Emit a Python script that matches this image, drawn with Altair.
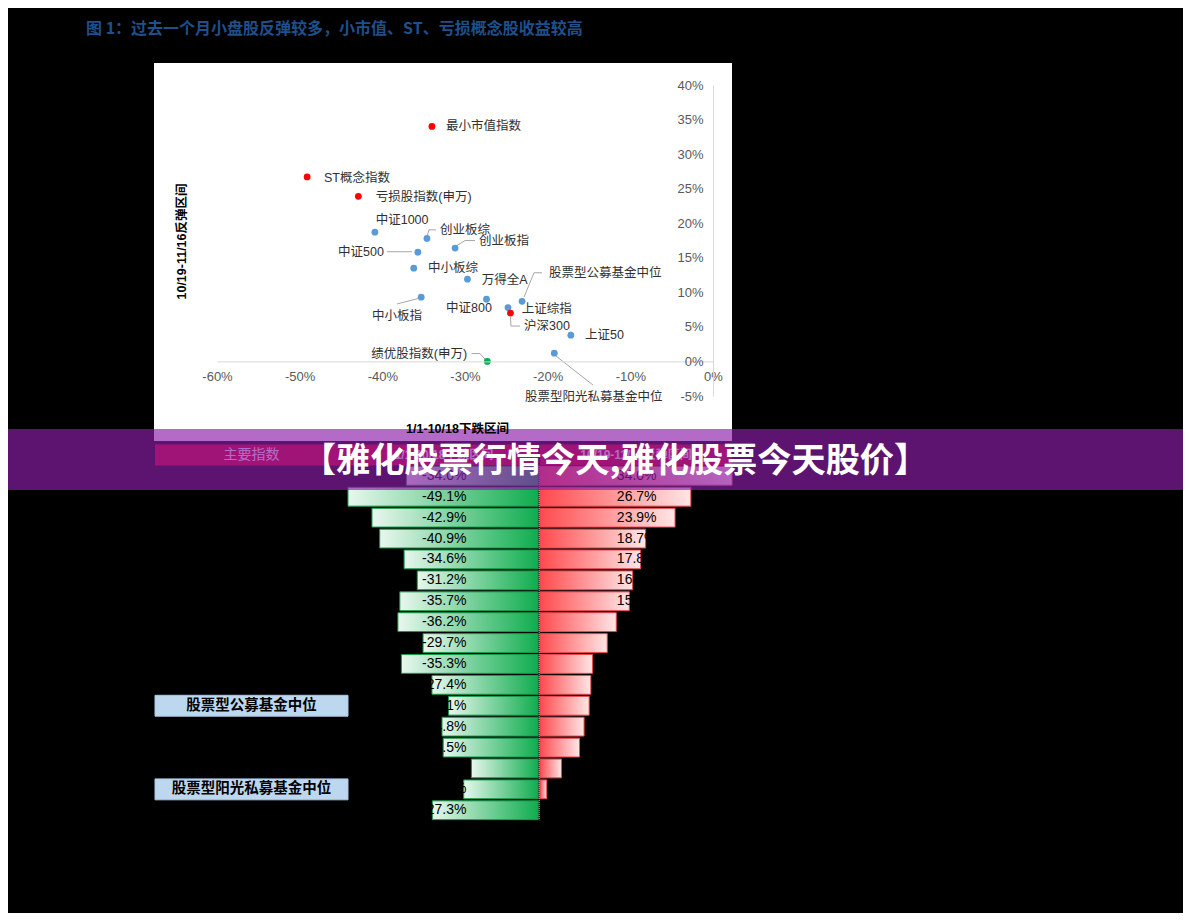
import altair as alt
import pandas as pd

# ---------------- values ----------------
title_text = "图 1：过去一个月小盘股反弹较多，小市值、ST、亏损概念股收益较高"
banner_text = "【雅化股票行情今天,雅化股票今天股价】"

names = ["最小市值指数", "ST概念指数", "亏损股指数(申万)", "中证1000", "创业板综",
         "创业板指", "中证500", "中小板综", "万得全A", "中小板指", "中证800",
         "股票型公募基金中位", "上证综指", "沪深300", "上证50",
         "股票型阳光私募基金中位", "绩优股指数(申万)"]
fall_pct = [-34.0, -49.1, -42.9, -40.9, -34.6, -31.2, -35.7, -36.2, -29.7, -35.3,
            -27.4, -23.1, -24.8, -24.5, -17.2, -19.2, -27.3]
rebound_pct = [34.0, 26.7, 23.9, 18.7, 17.8, 16.4, 15.8, 13.5, 11.9, 9.3,
               9.0, 8.7, 7.8, 7.0, 3.8, 1.2, 0.0]
point_kind = ["高收益", "高收益", "高收益", "一般", "一般", "一般", "一般", "一般",
              "一般", "一般", "一般", "一般", "一般", "高收益", "一般", "一般", "绩优"]
# label anchors (left edge / middle), in data units (%)
label_x = [-32.30, -47.06, -40.80, -40.80, -33.02, -28.31, -45.36, -34.48, -27.98,
           -41.25, -32.30, -19.84, -23.14, -22.86, -15.48, -22.74, -41.33]
label_y = [34.06, 26.54, 23.79, 20.50, 19.01, 17.42, 15.87, 13.47, 11.78,
           6.61, 7.68, 12.83, 7.58, 5.12, 3.84, -5.11, 1.14]
# leader lines, data units (%)
leader_id = ["创业板综"] * 3 + ["中证500"] * 2 + ["创业板指"] * 3 + ["公募"] * 3 + \
            ["中小板指"] * 2 + ["沪深300"] * 3 + ["私募"] * 2 + ["绩优"] * 3
leader_x = [-34.60, -34.36, -33.51, -39.44, -36.41, -31.09, -30.00, -28.79,
            -22.86, -21.65, -20.69, -35.69, -38.23, -24.50, -24.44, -23.35,
            -18.99, -14.52, -29.21, -28.19, -27.58]
leader_y = [18.03, 19.04, 19.04, 15.87, 15.87, 16.70, 17.49, 17.49,
            9.32, 12.83, 12.83, 9.10, 8.31, 6.42, 5.12, 5.12,
            0.78, -3.41, 1.14, 1.14, 0.35]

x_ticks = [-60, -50, -40, -30, -20, -10, 0]
y_ticks = [-5, 0, 5, 10, 15, 20, 25, 30, 35, 40]
x_title = "1/1-10/18下跌区间"
y_title = "10/19-11/16反弹区间"

table_head = ["主要指数", "1/1-10/18下跌区间", "10/19-11/16反弹区间"]
boxed_rows = ["股票型公募基金中位", "股票型阳光私募基金中位"]

# ---------------- layout helpers ----------------
OFF = 8                      # page margin
W, H = 1175, 905
def px(v):                   # picture pixel -> chart pixel
    return v - OFF

CJK = "Noto Sans CJK SC"
MIX = "Liberation Sans, Noto Sans CJK SC"

SX = alt.Scale(domain=[-60, 0], range=[px(217), px(713)], nice=False, zero=False)
SY = alt.Scale(domain=[-5, 40], range=[px(396), px(85)], nice=False, zero=False)

rows_domain = [table_head[0]] + names
ROW0, STEP = 444.5, 20.9
SB = alt.Scale(domain=rows_domain, range=[px(ROW0), px(ROW0 + 18 * STEP)],
               paddingInner=0.1, paddingOuter=0.05)
SB_FULL = alt.Scale(domain=rows_domain, range=[px(ROW0), px(ROW0 + 18 * STEP)],
                    paddingInner=0.0, paddingOuter=0.0)
SL = alt.Scale(domain=[-50, 0], range=[px(538 - 50 * 3.87), px(538)], nice=False, zero=False)
SR = alt.Scale(domain=[0, 35], range=[px(540), px(540 + 35 * 5.65)], nice=False, zero=False)

one = pd.DataFrame({"k": [0]})
scatter_df = pd.DataFrame({"name": names, "fall": fall_pct, "rebound": rebound_pct,
                           "kind": point_kind, "lx": label_x, "ly": label_y})
leader_df = pd.DataFrame({"id": leader_id, "x": leader_x, "y": leader_y})
leader_df["seq"] = leader_df.groupby("id").cumcount()
bar_df = pd.DataFrame({"name": names, "fall": fall_pct, "rebound": rebound_pct})
bar_df["zero"] = 0.0
bar_df["fall_t"] = [f"{v:.1f}%" for v in fall_pct]
bar_df["reb_t"] = [f"{v:.1f}%" for v in rebound_pct]
boxed_df = pd.DataFrame({"name": boxed_rows})

# ---------------- scatter panel ----------------
panel = alt.Chart(one).mark_rect(color="white").encode(
    x=alt.value(px(154)), x2=alt.value(px(732)),
    y=alt.value(px(63)), y2=alt.value(px(441)))

leaders = alt.Chart(leader_df).mark_line(color="#a6a6a6", strokeWidth=1).encode(
    x=alt.X("x:Q", scale=SX, axis=None),
    y=alt.Y("y:Q", scale=SY, axis=None),
    detail="id:N", order="seq:O")

x_axis = alt.Axis(values=x_ticks, labelExpr="datum.value + '%'", orient="bottom",
                  offset=px(361.4) - H, domainColor="#d9d9d9", ticks=False, tickSize=0,
                  grid=False, labelColor="#595959", labelFont="Liberation Sans",
                  labelFontSize=13, labelPadding=9, labelFlush=False, labelOverlap=False,
                  title=x_title, titleFont=MIX, titleFontSize=12.5, titleFontWeight="bold",
                  titleColor="black", titleX=px(457), titleY=428 - 361.4,
                  titleAlign="center", titleBaseline="middle", zindex=1)
y_axis = alt.Axis(values=y_ticks, labelExpr="datum.value + '%'", orient="left",
                  offset=-px(713), domainColor="#d9d9d9", ticks=False, tickSize=0,
                  grid=False, labelColor="#595959", labelFont="Liberation Sans",
                  labelFontSize=13, labelPadding=10, labelFlush=False, labelOverlap=False,
                  title=y_title, titleFont=MIX, titleFontSize=12.5, titleFontWeight="bold",
                  titleColor="black", titleX=px(181) - px(713), titleY=px(241),
                  titleAngle=270, titleAlign="center", titleBaseline="middle", zindex=1)

points = alt.Chart(scatter_df).mark_circle(size=46, opacity=1).encode(
    x=alt.X("fall:Q", scale=SX, axis=x_axis),
    y=alt.Y("rebound:Q", scale=SY, axis=y_axis),
    color=alt.Color("kind:N", legend=None,
                    scale=alt.Scale(domain=["高收益", "一般", "绩优"],
                                    range=["#ff0000", "#5b9bd5", "#00b050"])))

point_labels = alt.Chart(scatter_df).mark_text(
    align="left", baseline="middle", font=MIX, fontSize=12.5, color="#303030").encode(
    x=alt.X("lx:Q", scale=SX, axis=None),
    y=alt.Y("ly:Q", scale=SY, axis=None),
    text="name:N")

# ---------------- table / diverging bars ----------------
MAGENTA = "#c80018"
head_left = alt.Chart(one).mark_rect(color=MAGENTA).encode(
    x=alt.value(px(155)), x2=alt.value(px(348)),
    y=alt.YDatum(table_head[0], type="nominal", scale=SB_FULL, axis=None))
head_mid = alt.Chart(one).mark_rect(color=MAGENTA).encode(
    x=alt.value(px(350)), x2=alt.value(px(538)),
    y=alt.YDatum(table_head[0], type="nominal", scale=SB_FULL, axis=None))
head_right = alt.Chart(one).mark_rect(color=MAGENTA).encode(
    x=alt.value(px(540)), x2=alt.value(px(732)),
    y=alt.YDatum(table_head[0], type="nominal", scale=SB_FULL, axis=None))
head_t1 = alt.Chart(one).mark_text(font=CJK, fontSize=14, color="white").encode(
    x=alt.value(px(251.5)), y=alt.YDatum(table_head[0], type="nominal", scale=SB_FULL, axis=None),
    text=alt.value(table_head[0]))
head_t2 = alt.Chart(one).mark_text(font=MIX, fontSize=12, fontWeight="bold", color="white").encode(
    x=alt.value(px(444)), y=alt.YDatum(table_head[0], type="nominal", scale=SB_FULL, axis=None),
    text=alt.value(table_head[1]))
head_t3 = alt.Chart(one).mark_text(font=MIX, fontSize=12, fontWeight="bold", color="white").encode(
    x=alt.value(px(636)), y=alt.YDatum(table_head[0], type="nominal", scale=SB_FULL, axis=None),
    text=alt.value(table_head[2]))

boxes = alt.Chart(boxed_df).mark_rect(fill="#bdd7ee", stroke="#a9c8e6", strokeWidth=1).encode(
    x=alt.value(px(155)), x2=alt.value(px(348)),
    y=alt.Y("name:N", scale=SB_FULL, axis=None))
box_text = alt.Chart(boxed_df).mark_text(font=CJK, fontSize=14.5, fontWeight="bold",
                                         color="black", baseline="middle").encode(
    x=alt.value(px(251.5)),
    y=alt.Y("name:N", scale=SB_FULL, axis=None),
    text="name:N")

green_grad = alt.Gradient(gradient="linear", x1=0, x2=1, y1=0, y2=0,
                          stops=[alt.GradientStop(color="#e8f7ee", offset=0),
                                 alt.GradientStop(color="#10ad4f", offset=1)])
red_grad = alt.Gradient(gradient="linear", x1=0, x2=1, y1=0, y2=0,
                        stops=[alt.GradientStop(color="#ff4a4d", offset=0),
                               alt.GradientStop(color="#ffe6e6", offset=1)])

green_bars = alt.Chart(bar_df).mark_bar(fill=green_grad, stroke="#1a9a4a", strokeWidth=1).encode(
    x=alt.X("fall:Q", scale=SL, axis=None), x2="zero:Q",
    y=alt.Y("name:N", scale=SB, axis=None))
red_bars = alt.Chart(bar_df).transform_filter("datum.rebound > 0").mark_bar(
    fill=red_grad, stroke="#e8474c", strokeWidth=1).encode(
    x=alt.X("zero:Q", scale=SR, axis=None), x2="rebound:Q",
    y=alt.Y("name:N", scale=SB, axis=None))

green_text = alt.Chart(bar_df).mark_text(
    align="right", baseline="middle", font="Liberation Sans", fontSize=14, color="black").encode(
    x=alt.XDatum(-18.5, scale=SL, axis=None),
    y=alt.Y("name:N", scale=SB, axis=None), text="fall_t:N")
red_text = alt.Chart(bar_df).mark_text(
    align="left", baseline="middle", font="Liberation Sans", fontSize=14, color="black").encode(
    x=alt.XDatum(13.6, scale=SR, axis=None),
    y=alt.Y("name:N", scale=SB, axis=None), text="reb_t:N")

center_rule = alt.Chart(one).mark_rule(color="#e6e6e6", strokeDash=[1, 1], strokeWidth=1,
                                       yOffset=-10, y2Offset=10).encode(
    x=alt.XDatum(-0.15, scale=SR, axis=None),
    y=alt.YDatum(names[0], type="nominal", scale=SB, axis=None),
    y2=alt.Y2Datum(names[-1]))

# ---------------- overlay banner + title ----------------
banner = alt.Chart(one).mark_rect(color="#8b1eaa", opacity=0.66).encode(
    x=alt.value(0), x2=alt.value(W), y=alt.value(px(429)), y2=alt.value(px(490)))
banner_t = alt.Chart(one).mark_text(font=CJK, fontSize=34.2, fontWeight="bold", color="white",
                                    align="center", baseline="middle").encode(
    x=alt.value(px(615)), y=alt.value(px(462)), text=alt.value(banner_text))
title = alt.Chart(one).mark_text(font=CJK, fontSize=16, fontWeight="bold", color="#1e508c",
                                 align="left", baseline="middle").encode(
    x=alt.value(px(86)), y=alt.value(px(29)), text=alt.value(title_text))

chart = alt.layer(
    panel, leaders, points, point_labels,
    head_left, head_mid, head_right, head_t1, head_t2, head_t3,
    boxes, box_text, green_bars, red_bars, green_text, red_text, center_rule,
    banner, banner_t, title
).resolve_scale(
    x="independent", y="independent", color="independent"
).properties(
    width=W, height=H, background="black", padding=0
).configure_view(stroke=None)

chart.save("out.html", embed_options={"renderer": "svg", "actions": False})
